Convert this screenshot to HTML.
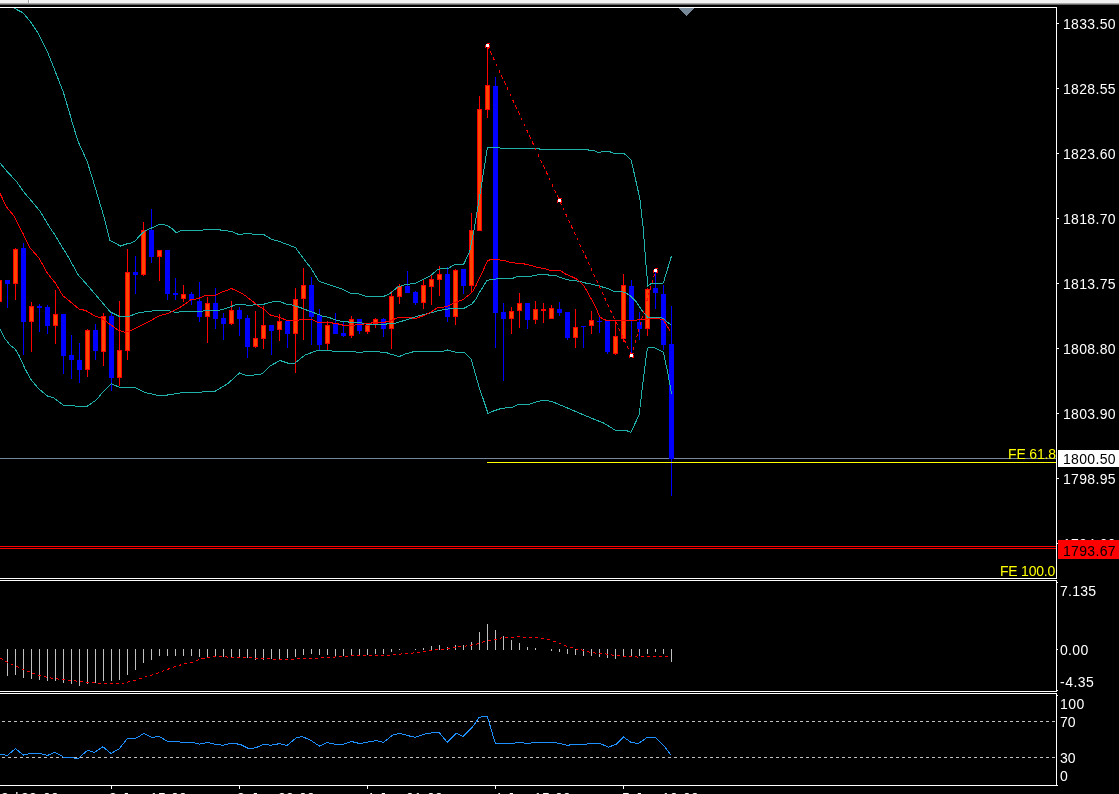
<!DOCTYPE html><html><head><meta charset="utf-8"><title>Chart</title><style>html,body{margin:0;padding:0;background:#000;}body{width:1119px;height:794px;overflow:hidden;position:relative;}svg{position:absolute;left:0;top:0;display:block;}text{font-family:"Liberation Sans",Arial,sans-serif;font-size:14px;}</style></head><body>
<svg width="1119" height="794" viewBox="0 0 1119 794">
<rect x="0" y="0" width="1119" height="794" fill="#000"/>
<rect x="0" y="0" width="1119" height="3" fill="#f0f0f0"/>
<rect x="0" y="3" width="1119" height="1" fill="#a8a8a8"/>
<rect x="0" y="4" width="1119" height="1" fill="#646464"/>
<rect x="28" y="0" width="1" height="3" fill="#a0a0a0"/>
<rect x="29" y="0" width="1" height="3" fill="#ffffff"/>
<defs><clipPath id="cm"><rect x="0" y="8" width="1056" height="570"/></clipPath><clipPath id="cmacd"><rect x="0" y="581" width="1056" height="110"/></clipPath><clipPath id="crsi"><rect x="0" y="694" width="1056" height="91"/></clipPath></defs>
<g clip-path="url(#cm)">
<rect x="0" y="546" width="1056" height="1" fill="#ff0000"/>
<rect x="0" y="548" width="1056" height="1" fill="#ff0000"/>
<rect x="0" y="458" width="1056" height="1" fill="#778899"/>
<g shape-rendering="crispEdges">
<rect x="-1" y="276" width="1" height="30" fill="#ff0000"/>
<rect x="-3" y="280" width="5" height="22" fill="#ff0000"/>
<rect x="-2" y="281" width="3" height="20" fill="#ff4500"/>
<rect x="7" y="280" width="1" height="28" fill="#0000ff"/>
<rect x="5" y="280" width="5" height="4" fill="#0000ff"/>
<rect x="15" y="248" width="1" height="52" fill="#ff0000"/>
<rect x="13" y="249" width="5" height="35" fill="#ff0000"/>
<rect x="14" y="250" width="3" height="33" fill="#ff4500"/>
<rect x="23" y="243" width="1" height="112" fill="#0000ff"/>
<rect x="21" y="248" width="5" height="74" fill="#0000ff"/>
<rect x="31" y="302" width="1" height="50" fill="#ff0000"/>
<rect x="29" y="306" width="5" height="16" fill="#ff0000"/>
<rect x="30" y="307" width="3" height="14" fill="#ff4500"/>
<rect x="39" y="304" width="1" height="28" fill="#0000ff"/>
<rect x="37" y="306" width="5" height="2" fill="#0000ff"/>
<rect x="47" y="305" width="1" height="29" fill="#0000ff"/>
<rect x="45" y="307" width="5" height="19" fill="#0000ff"/>
<rect x="55" y="290" width="1" height="54" fill="#ff0000"/>
<rect x="53" y="314" width="5" height="12" fill="#ff0000"/>
<rect x="54" y="315" width="3" height="10" fill="#ff4500"/>
<rect x="63" y="314" width="1" height="60" fill="#0000ff"/>
<rect x="61" y="314" width="5" height="42" fill="#0000ff"/>
<rect x="71" y="335" width="1" height="44" fill="#0000ff"/>
<rect x="69" y="355" width="5" height="5" fill="#0000ff"/>
<rect x="79" y="343" width="1" height="40" fill="#0000ff"/>
<rect x="77" y="360" width="5" height="10" fill="#0000ff"/>
<rect x="87" y="329" width="1" height="48" fill="#ff0000"/>
<rect x="85" y="330" width="5" height="40" fill="#ff0000"/>
<rect x="86" y="331" width="3" height="38" fill="#ff4500"/>
<rect x="95" y="324" width="1" height="36" fill="#0000ff"/>
<rect x="93" y="330" width="5" height="21" fill="#0000ff"/>
<rect x="103" y="313" width="1" height="53" fill="#ff0000"/>
<rect x="101" y="316" width="5" height="36" fill="#ff0000"/>
<rect x="102" y="317" width="3" height="34" fill="#ff4500"/>
<rect x="111" y="313" width="1" height="78" fill="#0000ff"/>
<rect x="109" y="316" width="5" height="62" fill="#0000ff"/>
<rect x="119" y="301" width="1" height="85" fill="#ff0000"/>
<rect x="117" y="350" width="5" height="28" fill="#ff0000"/>
<rect x="118" y="351" width="3" height="26" fill="#ff4500"/>
<rect x="127" y="249" width="1" height="111" fill="#ff0000"/>
<rect x="125" y="272" width="5" height="79" fill="#ff0000"/>
<rect x="126" y="273" width="3" height="77" fill="#ff4500"/>
<rect x="135" y="256" width="1" height="38" fill="#0000ff"/>
<rect x="133" y="272" width="5" height="3" fill="#0000ff"/>
<rect x="143" y="222" width="1" height="54" fill="#ff0000"/>
<rect x="141" y="230" width="5" height="45" fill="#ff0000"/>
<rect x="142" y="231" width="3" height="43" fill="#ff4500"/>
<rect x="151" y="209" width="1" height="54" fill="#0000ff"/>
<rect x="149" y="230" width="5" height="27" fill="#0000ff"/>
<rect x="159" y="250" width="1" height="31" fill="#ff0000"/>
<rect x="157" y="250" width="5" height="7" fill="#ff0000"/>
<rect x="158" y="251" width="3" height="5" fill="#ff4500"/>
<rect x="167" y="250" width="1" height="50" fill="#0000ff"/>
<rect x="165" y="250" width="5" height="44" fill="#0000ff"/>
<rect x="175" y="278" width="1" height="22" fill="#0000ff"/>
<rect x="173" y="293" width="5" height="2" fill="#0000ff"/>
<rect x="183" y="285" width="1" height="17" fill="#ff0000"/>
<rect x="181" y="294" width="5" height="5" fill="#ff0000"/>
<rect x="182" y="295" width="3" height="3" fill="#ff4500"/>
<rect x="191" y="292" width="1" height="13" fill="#0000ff"/>
<rect x="189" y="294" width="5" height="6" fill="#0000ff"/>
<rect x="199" y="282" width="1" height="40" fill="#0000ff"/>
<rect x="197" y="301" width="5" height="16" fill="#0000ff"/>
<rect x="207" y="297" width="1" height="46" fill="#ff0000"/>
<rect x="205" y="303" width="5" height="14" fill="#ff0000"/>
<rect x="206" y="304" width="3" height="12" fill="#ff4500"/>
<rect x="215" y="288" width="1" height="41" fill="#0000ff"/>
<rect x="213" y="303" width="5" height="16" fill="#0000ff"/>
<rect x="223" y="313" width="1" height="27" fill="#0000ff"/>
<rect x="221" y="318" width="5" height="6" fill="#0000ff"/>
<rect x="231" y="301" width="1" height="24" fill="#ff0000"/>
<rect x="229" y="310" width="5" height="14" fill="#ff0000"/>
<rect x="230" y="311" width="3" height="12" fill="#ff4500"/>
<rect x="239" y="307" width="1" height="29" fill="#0000ff"/>
<rect x="237" y="310" width="5" height="9" fill="#0000ff"/>
<rect x="247" y="315" width="1" height="43" fill="#0000ff"/>
<rect x="245" y="318" width="5" height="29" fill="#0000ff"/>
<rect x="255" y="311" width="1" height="37" fill="#ff0000"/>
<rect x="253" y="338" width="5" height="9" fill="#ff0000"/>
<rect x="254" y="339" width="3" height="7" fill="#ff4500"/>
<rect x="263" y="306" width="1" height="43" fill="#ff0000"/>
<rect x="261" y="325" width="5" height="14" fill="#ff0000"/>
<rect x="262" y="326" width="3" height="12" fill="#ff4500"/>
<rect x="271" y="325" width="1" height="30" fill="#0000ff"/>
<rect x="269" y="325" width="5" height="6" fill="#0000ff"/>
<rect x="279" y="314" width="1" height="27" fill="#ff0000"/>
<rect x="277" y="321" width="5" height="9" fill="#ff0000"/>
<rect x="278" y="322" width="3" height="7" fill="#ff4500"/>
<rect x="287" y="321" width="1" height="27" fill="#0000ff"/>
<rect x="285" y="321" width="5" height="13" fill="#0000ff"/>
<rect x="295" y="288" width="1" height="85" fill="#ff0000"/>
<rect x="293" y="299" width="5" height="35" fill="#ff0000"/>
<rect x="294" y="300" width="3" height="33" fill="#ff4500"/>
<rect x="303" y="268" width="1" height="72" fill="#ff0000"/>
<rect x="301" y="285" width="5" height="14" fill="#ff0000"/>
<rect x="302" y="286" width="3" height="12" fill="#ff4500"/>
<rect x="311" y="277" width="1" height="68" fill="#0000ff"/>
<rect x="309" y="285" width="5" height="32" fill="#0000ff"/>
<rect x="319" y="309" width="1" height="42" fill="#0000ff"/>
<rect x="317" y="315" width="5" height="30" fill="#0000ff"/>
<rect x="327" y="321" width="1" height="29" fill="#ff0000"/>
<rect x="325" y="325" width="5" height="19" fill="#ff0000"/>
<rect x="326" y="326" width="3" height="17" fill="#ff4500"/>
<rect x="335" y="313" width="1" height="21" fill="#0000ff"/>
<rect x="333" y="323" width="5" height="11" fill="#0000ff"/>
<rect x="343" y="321" width="1" height="16" fill="#0000ff"/>
<rect x="341" y="333" width="5" height="3" fill="#0000ff"/>
<rect x="351" y="316" width="1" height="22" fill="#ff0000"/>
<rect x="349" y="319" width="5" height="17" fill="#ff0000"/>
<rect x="350" y="320" width="3" height="15" fill="#ff4500"/>
<rect x="359" y="319" width="1" height="15" fill="#0000ff"/>
<rect x="357" y="319" width="5" height="12" fill="#0000ff"/>
<rect x="367" y="325" width="1" height="9" fill="#ff0000"/>
<rect x="365" y="325" width="5" height="7" fill="#ff0000"/>
<rect x="366" y="326" width="3" height="5" fill="#ff4500"/>
<rect x="375" y="318" width="1" height="10" fill="#ff0000"/>
<rect x="373" y="319" width="5" height="5" fill="#ff0000"/>
<rect x="374" y="320" width="3" height="3" fill="#ff4500"/>
<rect x="383" y="318" width="1" height="19" fill="#0000ff"/>
<rect x="381" y="319" width="5" height="10" fill="#0000ff"/>
<rect x="391" y="291" width="1" height="58" fill="#ff0000"/>
<rect x="389" y="296" width="5" height="33" fill="#ff0000"/>
<rect x="390" y="297" width="3" height="31" fill="#ff4500"/>
<rect x="399" y="284" width="1" height="20" fill="#ff0000"/>
<rect x="397" y="286" width="5" height="11" fill="#ff0000"/>
<rect x="398" y="287" width="3" height="9" fill="#ff4500"/>
<rect x="407" y="271" width="1" height="22" fill="#0000ff"/>
<rect x="405" y="286" width="5" height="7" fill="#0000ff"/>
<rect x="415" y="291" width="1" height="14" fill="#0000ff"/>
<rect x="413" y="292" width="5" height="11" fill="#0000ff"/>
<rect x="423" y="279" width="1" height="30" fill="#ff0000"/>
<rect x="421" y="285" width="5" height="18" fill="#ff0000"/>
<rect x="422" y="286" width="3" height="16" fill="#ff4500"/>
<rect x="431" y="275" width="1" height="30" fill="#ff0000"/>
<rect x="429" y="279" width="5" height="8" fill="#ff0000"/>
<rect x="430" y="280" width="3" height="6" fill="#ff4500"/>
<rect x="439" y="266" width="1" height="30" fill="#ff0000"/>
<rect x="437" y="274" width="5" height="6" fill="#ff0000"/>
<rect x="438" y="275" width="3" height="4" fill="#ff4500"/>
<rect x="447" y="267" width="1" height="55" fill="#0000ff"/>
<rect x="445" y="274" width="5" height="43" fill="#0000ff"/>
<rect x="455" y="269" width="1" height="56" fill="#ff0000"/>
<rect x="453" y="270" width="5" height="47" fill="#ff0000"/>
<rect x="454" y="271" width="3" height="45" fill="#ff4500"/>
<rect x="463" y="269" width="1" height="25" fill="#0000ff"/>
<rect x="461" y="269" width="5" height="17" fill="#0000ff"/>
<rect x="471" y="213" width="1" height="79" fill="#ff0000"/>
<rect x="469" y="230" width="5" height="56" fill="#ff0000"/>
<rect x="470" y="231" width="3" height="54" fill="#ff4500"/>
<rect x="479" y="96" width="1" height="135" fill="#ff0000"/>
<rect x="477" y="109" width="5" height="122" fill="#ff0000"/>
<rect x="478" y="110" width="3" height="120" fill="#ff4500"/>
<rect x="487" y="45" width="1" height="73" fill="#ff0000"/>
<rect x="485" y="85" width="5" height="25" fill="#ff0000"/>
<rect x="486" y="86" width="3" height="23" fill="#ff4500"/>
<rect x="495" y="77" width="1" height="271" fill="#0000ff"/>
<rect x="493" y="86" width="5" height="227" fill="#0000ff"/>
<rect x="503" y="303" width="1" height="78" fill="#0000ff"/>
<rect x="501" y="312" width="5" height="7" fill="#0000ff"/>
<rect x="511" y="307" width="1" height="27" fill="#ff0000"/>
<rect x="509" y="311" width="5" height="8" fill="#ff0000"/>
<rect x="510" y="312" width="3" height="6" fill="#ff4500"/>
<rect x="519" y="293" width="1" height="35" fill="#ff0000"/>
<rect x="517" y="303" width="5" height="8" fill="#ff0000"/>
<rect x="518" y="304" width="3" height="6" fill="#ff4500"/>
<rect x="527" y="303" width="1" height="26" fill="#0000ff"/>
<rect x="525" y="303" width="5" height="17" fill="#0000ff"/>
<rect x="535" y="301" width="1" height="23" fill="#ff0000"/>
<rect x="533" y="309" width="5" height="11" fill="#ff0000"/>
<rect x="534" y="310" width="3" height="9" fill="#ff4500"/>
<rect x="543" y="303" width="1" height="20" fill="#ff0000"/>
<rect x="541" y="309" width="5" height="2" fill="#ff0000"/>
<rect x="551" y="305" width="1" height="14" fill="#ff0000"/>
<rect x="549" y="308" width="5" height="11" fill="#ff0000"/>
<rect x="550" y="309" width="3" height="9" fill="#ff4500"/>
<rect x="559" y="302" width="1" height="14" fill="#0000ff"/>
<rect x="557" y="309" width="5" height="4" fill="#0000ff"/>
<rect x="567" y="312" width="1" height="28" fill="#0000ff"/>
<rect x="565" y="312" width="5" height="26" fill="#0000ff"/>
<rect x="575" y="309" width="1" height="39" fill="#ff0000"/>
<rect x="573" y="327" width="5" height="11" fill="#ff0000"/>
<rect x="574" y="328" width="3" height="9" fill="#ff4500"/>
<rect x="583" y="326" width="1" height="22" fill="#0000ff"/>
<rect x="581" y="326" width="5" height="1" fill="#0000ff"/>
<rect x="591" y="311" width="1" height="23" fill="#ff0000"/>
<rect x="589" y="320" width="5" height="6" fill="#ff0000"/>
<rect x="590" y="321" width="3" height="4" fill="#ff4500"/>
<rect x="599" y="315" width="1" height="18" fill="#0000ff"/>
<rect x="597" y="321" width="5" height="1" fill="#0000ff"/>
<rect x="607" y="321" width="1" height="33" fill="#0000ff"/>
<rect x="605" y="321" width="5" height="31" fill="#0000ff"/>
<rect x="615" y="321" width="1" height="34" fill="#ff0000"/>
<rect x="613" y="336" width="5" height="18" fill="#ff0000"/>
<rect x="614" y="337" width="3" height="16" fill="#ff4500"/>
<rect x="623" y="274" width="1" height="68" fill="#ff0000"/>
<rect x="621" y="285" width="5" height="54" fill="#ff0000"/>
<rect x="622" y="286" width="3" height="52" fill="#ff4500"/>
<rect x="631" y="280" width="1" height="75" fill="#0000ff"/>
<rect x="629" y="286" width="5" height="35" fill="#0000ff"/>
<rect x="639" y="312" width="1" height="28" fill="#0000ff"/>
<rect x="637" y="322" width="5" height="7" fill="#0000ff"/>
<rect x="647" y="288" width="1" height="48" fill="#ff0000"/>
<rect x="645" y="289" width="5" height="40" fill="#ff0000"/>
<rect x="646" y="290" width="3" height="38" fill="#ff4500"/>
<rect x="655" y="270" width="1" height="39" fill="#0000ff"/>
<rect x="653" y="288" width="5" height="5" fill="#0000ff"/>
<rect x="663" y="285" width="1" height="65" fill="#0000ff"/>
<rect x="661" y="294" width="5" height="51" fill="#0000ff"/>
<rect x="671" y="306" width="1" height="190" fill="#0000ff"/>
<rect x="669" y="344" width="5" height="115" fill="#0000ff"/>
</g>
<g fill="none" stroke-width="1" shape-rendering="crispEdges">
<polyline points="13.0,7.6 14.1,8.2 18.9,10.7 22.7,12.6 30.2,21.4 37.8,32.7 47.9,52.9 52.9,65.5 57.3,76.8 63.1,91.5 69.6,113.0 71.5,120.0 78.0,141.3 87.0,161.0 93.6,182.3 103.4,215.0 110.0,240.5 120.5,246.0 128.6,243.3 130.0,243.4 135.0,241.0 140.0,235.3 145.1,230.9 155.2,226.4 160.2,224.2 164.0,224.6 167.8,225.8 171.6,228.3 176.0,232.7 180.4,230.9 203.0,230.2 204.3,229.2 219.5,229.2 220.8,230.3 227.1,230.7 229.0,231.6 232.7,232.0 237.8,234.1 242.8,234.1 243.5,233.2 251.6,233.2 252.3,234.1 263.6,234.5 271.8,239.3 279.7,241.6 287.5,244.6 295.4,247.5 303.3,258.3 311.0,268.2 319.0,281.3 326.9,283.9 334.7,286.5 342.6,289.2 350.4,293.1 358.3,293.7 366.2,296.3 383.9,296.3 389.8,293.7 397.6,287.2 405.5,284.5 415.0,283.4 422.6,279.6 430.2,275.8 438.3,269.1 447.8,268.6 454.1,264.9 463.5,264.5 469.6,252.0 473.9,230.6 481.4,185.6 487.4,147.5 499.8,147.5 500.5,148.5 539.3,148.5 540.0,149.5 587.9,149.5 588.7,150.3 594.0,150.5 598.5,152.5 603.1,151.5 609.2,151.5 613.7,153.3 623.6,153.3 627.4,156.3 631.2,160.0 635.5,179.2 639.8,198.5 643.0,226.3 646.2,267.0 647.9,286.2 650.5,284.0 663.3,283.0 671.4,256.3" stroke="#20b2aa"/>
<polyline points="0.0,163.1 7.6,172.0 16.4,181.4 23.9,192.1 31.5,201.0 40.3,211.6 47.9,224.2 50.8,229.0 55.4,235.6 60.2,243.9 66.5,253.9 72.2,264.0 78.5,275.3 85.4,282.9 93.0,291.7 100.5,300.5 110.4,312.0 119.2,316.4 128.6,316.4 135.6,313.9 140.0,312.5 146.0,311.7 155.1,310.7 168.7,310.7 171.8,311.7 177.8,312.5 179.3,311.7 202.0,311.7 203.5,310.7 218.9,310.3 225.2,308.8 230.2,306.9 235.3,305.0 239.0,304.1 243.5,304.1 247.9,305.6 251.6,305.6 255.4,304.1 264.2,304.1 269.3,302.5 275.6,301.2 280.7,301.8 286.3,304.3 291.4,304.9 300.2,307.5 306.5,310.0 316.6,313.8 322.9,316.3 329.2,317.5 334.2,319.5 338.3,320.5 342.3,321.5 348.0,321.5 348.3,322.5 361.5,322.5 362.2,323.5 366.0,323.5 366.3,324.5 386.7,324.5 387.0,323.5 394.2,323.5 400.5,321.6 406.8,319.7 410.0,318.6 417.6,316.1 425.1,314.2 432.7,312.3 439.0,310.5 446.5,309.2 451.6,308.6 463.5,308.6 471.7,304.2 475.5,299.7 480.0,291.6 486.9,280.5 491.3,279.6 498.9,278.7 512.7,278.3 517.8,276.4 530.4,276.4 539.2,274.6 548.0,274.6 548.6,275.4 555.6,275.4 560.1,277.4 566.4,279.6 575.2,280.8 580.2,281.5 586.5,283.3 594.1,284.6 600.4,286.5 608.0,288.4 614.3,291.5 621.8,291.5 625.6,292.8 630.4,295.7 635.7,301.0 641.7,310.0 647.8,317.4 658.3,317.6 662.2,318.0 671.0,325.0" stroke="#20b2aa"/>
<polyline points="0.0,328.8 5.0,338.8 10.0,345.0 15.0,348.8 18.8,355.0 25.0,368.8 31.3,380.0 38.8,388.8 47.5,396.0 53.8,398.0 63.8,405.5 75.0,406.0 87.5,406.0 96.3,400.0 103.8,391.0 111.3,383.8 120.0,387.5 135.0,387.5 145.0,392.5 156.3,395.0 167.5,395.0 180.0,393.0 202.5,392.0 215.0,391.3 227.5,383.8 239.5,373.0 247.5,376.0 262.5,373.8 270.0,366.0 280.0,360.5 287.5,363.0 295.0,363.0 305.0,355.0 317.5,350.5 331.6,350.5 332.3,351.5 355.7,351.5 356.4,352.5 362.7,352.5 363.3,351.5 379.7,351.5 380.3,352.5 387.4,352.5 388.0,353.5 392.9,354.6 399.2,356.6 405.5,353.8 413.0,351.9 420.0,351.6 440.0,352.0 447.5,350.0 455.0,352.0 463.8,352.0 471.0,358.8 478.8,386.0 488.0,413.5 494.0,410.8 501.4,408.4 512.2,407.3 518.0,404.7 528.3,404.4 540.0,400.9 547.5,400.6 553.0,402.0 565.8,407.3 587.2,416.4 595.5,419.8 603.8,423.1 614.9,430.0 626.0,430.4 630.9,432.5 639.2,414.5 642.6,385.4 646.8,352.2 648.2,347.3 655.1,348.0 663.4,352.2 667.5,371.6 671.7,394.4" stroke="#20b2aa"/>
<polyline points="0.0,193.4 6.3,206.6 14.5,216.7 22.7,233.0 30.2,248.2 38.8,257.7 47.6,273.5 55.2,282.9 62.7,295.5 70.3,301.8 79.1,309.1 85.4,310.4 94.2,315.6 100.5,317.8 105.6,321.0 111.0,325.0 118.0,330.2 124.2,332.1 130.5,330.9 135.6,328.3 140.0,326.1 149.0,321.6 159.7,315.5 164.2,314.5 170.2,312.5 176.3,309.5 182.3,306.0 186.9,302.7 191.4,299.4 197.4,298.9 203.5,296.3 206.5,295.1 215.1,295.3 222.7,291.8 231.5,288.6 239.0,291.8 245.3,295.6 251.6,300.6 257.9,305.6 264.2,309.4 270.5,315.1 275.6,316.3 280.0,317.6 287.0,320.4 298.3,320.4 299.6,319.4 311.5,319.4 318.0,322.5 332.0,322.5 332.5,323.5 338.0,323.5 338.5,324.5 342.0,324.5 342.5,325.5 354.5,325.5 355.5,324.5 362.5,324.5 366.0,323.5 371.0,323.5 371.5,322.5 385.0,322.5 385.5,321.5 389.5,321.5 395.4,318.5 398.6,317.6 410.5,317.6 415.0,318.6 423.9,315.5 431.4,311.7 437.7,307.7 446.5,306.7 452.8,303.5 459.1,301.0 462.9,299.7 469.2,294.7 473.0,290.9 475.5,286.5 481.8,273.3 487.6,260.7 491.3,259.4 498.9,259.4 500.2,260.3 505.2,260.7 510.2,262.3 516.5,263.2 524.1,263.9 530.4,265.4 537.9,267.4 545.5,268.9 549.9,270.4 560.0,270.4 562.6,272.0 566.4,274.5 571.4,276.4 576.4,278.9 580.2,282.1 584.0,285.9 587.8,292.8 592.8,301.6 596.6,309.2 599.7,316.7 602.9,319.0 606.7,320.5 630.0,320.5 645.9,319.3 656.0,318.0 663.5,320.0 669.8,330.6" stroke="#ff0000"/>
</g>
<rect x="487" y="462" width="569" height="1" fill="#ffff00"/>
<g fill="none" stroke="#ff0000" stroke-width="1" shape-rendering="crispEdges">
<line x1="487.5" y1="45.5" x2="631.5" y2="355.5" stroke-dasharray="3.31 3.31" stroke-dashoffset="0"/>
<line x1="631.5" y1="355.5" x2="655.5" y2="270.5" stroke-dasharray="3.12 3.12"/>
</g>
<rect x="487" y="43" width="3" height="1" fill="#ff0000"/>
<rect x="485" y="45" width="1" height="3" fill="#ff0000"/>
<rect x="489" y="45" width="1" height="3" fill="#ff0000"/>
<rect x="488" y="47" width="1" height="1" fill="#ff0000"/>
<rect x="486" y="44" width="3" height="3" fill="#ffffff"/>
<rect x="559" y="198" width="3" height="1" fill="#ff0000"/>
<rect x="557" y="200" width="1" height="3" fill="#ff0000"/>
<rect x="561" y="200" width="1" height="3" fill="#ff0000"/>
<rect x="560" y="202" width="1" height="1" fill="#ff0000"/>
<rect x="558" y="199" width="3" height="3" fill="#ffffff"/>
<rect x="631" y="353" width="3" height="1" fill="#ff0000"/>
<rect x="629" y="355" width="1" height="3" fill="#ff0000"/>
<rect x="633" y="355" width="1" height="3" fill="#ff0000"/>
<rect x="632" y="357" width="1" height="1" fill="#ff0000"/>
<rect x="630" y="354" width="3" height="3" fill="#ffffff"/>
<rect x="655" y="268" width="3" height="1" fill="#ff0000"/>
<rect x="653" y="270" width="1" height="3" fill="#ff0000"/>
<rect x="657" y="270" width="1" height="3" fill="#ff0000"/>
<rect x="656" y="272" width="1" height="1" fill="#ff0000"/>
<rect x="654" y="269" width="3" height="3" fill="#ffffff"/>
<text x="1008" y="459" fill="#ffff00" textLength="48.0" lengthAdjust="spacing">FE 61.8</text>
<text x="1000" y="576" fill="#ffff00" textLength="55.3" lengthAdjust="spacing">FE 100.0</text>
</g>
<rect x="679" y="8" width="15" height="1" fill="#778899"/>
<rect x="680" y="9" width="13" height="1" fill="#778899"/>
<rect x="681" y="10" width="11" height="1" fill="#778899"/>
<rect x="682" y="11" width="9" height="1" fill="#778899"/>
<rect x="683" y="12" width="7" height="1" fill="#778899"/>
<rect x="684" y="13" width="5" height="1" fill="#778899"/>
<rect x="685" y="14" width="3" height="1" fill="#778899"/>
<rect x="686" y="15" width="1" height="1" fill="#778899"/>
<g clip-path="url(#cmacd)">
<g shape-rendering="crispEdges">
<rect x="7" y="649" width="1" height="27" fill="#c0c0c0"/>
<rect x="15" y="649" width="1" height="26" fill="#c0c0c0"/>
<rect x="23" y="649" width="1" height="29" fill="#c0c0c0"/>
<rect x="31" y="649" width="1" height="30" fill="#c0c0c0"/>
<rect x="39" y="649" width="1" height="31" fill="#c0c0c0"/>
<rect x="47" y="649" width="1" height="32" fill="#c0c0c0"/>
<rect x="55" y="649" width="1" height="32" fill="#c0c0c0"/>
<rect x="63" y="649" width="1" height="34" fill="#c0c0c0"/>
<rect x="71" y="649" width="1" height="35" fill="#c0c0c0"/>
<rect x="79" y="649" width="1" height="37" fill="#c0c0c0"/>
<rect x="87" y="649" width="1" height="35" fill="#c0c0c0"/>
<rect x="95" y="649" width="1" height="34" fill="#c0c0c0"/>
<rect x="103" y="649" width="1" height="32" fill="#c0c0c0"/>
<rect x="111" y="649" width="1" height="32" fill="#c0c0c0"/>
<rect x="119" y="649" width="1" height="31" fill="#c0c0c0"/>
<rect x="127" y="649" width="1" height="26" fill="#c0c0c0"/>
<rect x="135" y="649" width="1" height="21" fill="#c0c0c0"/>
<rect x="143" y="649" width="1" height="14" fill="#c0c0c0"/>
<rect x="151" y="649" width="1" height="11" fill="#c0c0c0"/>
<rect x="159" y="649" width="1" height="7" fill="#c0c0c0"/>
<rect x="167" y="649" width="1" height="7" fill="#c0c0c0"/>
<rect x="175" y="649" width="1" height="7" fill="#c0c0c0"/>
<rect x="183" y="649" width="1" height="7" fill="#c0c0c0"/>
<rect x="191" y="649" width="1" height="7" fill="#c0c0c0"/>
<rect x="199" y="649" width="1" height="8" fill="#c0c0c0"/>
<rect x="207" y="649" width="1" height="8" fill="#c0c0c0"/>
<rect x="215" y="649" width="1" height="8" fill="#c0c0c0"/>
<rect x="223" y="649" width="1" height="8" fill="#c0c0c0"/>
<rect x="231" y="649" width="1" height="8" fill="#c0c0c0"/>
<rect x="239" y="649" width="1" height="8" fill="#c0c0c0"/>
<rect x="247" y="649" width="1" height="9" fill="#c0c0c0"/>
<rect x="255" y="649" width="1" height="11" fill="#c0c0c0"/>
<rect x="263" y="649" width="1" height="11" fill="#c0c0c0"/>
<rect x="271" y="649" width="1" height="10" fill="#c0c0c0"/>
<rect x="279" y="649" width="1" height="10" fill="#c0c0c0"/>
<rect x="287" y="649" width="1" height="9" fill="#c0c0c0"/>
<rect x="295" y="649" width="1" height="8" fill="#c0c0c0"/>
<rect x="303" y="649" width="1" height="6" fill="#c0c0c0"/>
<rect x="311" y="649" width="1" height="5" fill="#c0c0c0"/>
<rect x="319" y="649" width="1" height="6" fill="#c0c0c0"/>
<rect x="327" y="649" width="1" height="6" fill="#c0c0c0"/>
<rect x="335" y="649" width="1" height="7" fill="#c0c0c0"/>
<rect x="343" y="649" width="1" height="7" fill="#c0c0c0"/>
<rect x="351" y="649" width="1" height="6" fill="#c0c0c0"/>
<rect x="359" y="649" width="1" height="6" fill="#c0c0c0"/>
<rect x="367" y="649" width="1" height="6" fill="#c0c0c0"/>
<rect x="375" y="649" width="1" height="5" fill="#c0c0c0"/>
<rect x="383" y="649" width="1" height="5" fill="#c0c0c0"/>
<rect x="391" y="649" width="1" height="3" fill="#c0c0c0"/>
<rect x="399" y="649" width="1" height="1" fill="#c0c0c0"/>
<rect x="415" y="649" width="1" height="1" fill="#c0c0c0"/>
<rect x="423" y="648" width="1" height="2" fill="#c0c0c0"/>
<rect x="431" y="646" width="1" height="4" fill="#c0c0c0"/>
<rect x="439" y="645" width="1" height="5" fill="#c0c0c0"/>
<rect x="447" y="647" width="1" height="3" fill="#c0c0c0"/>
<rect x="455" y="645" width="1" height="5" fill="#c0c0c0"/>
<rect x="463" y="645" width="1" height="5" fill="#c0c0c0"/>
<rect x="471" y="642" width="1" height="8" fill="#c0c0c0"/>
<rect x="479" y="632" width="1" height="18" fill="#c0c0c0"/>
<rect x="487" y="624" width="1" height="26" fill="#c0c0c0"/>
<rect x="495" y="630" width="1" height="20" fill="#c0c0c0"/>
<rect x="503" y="636" width="1" height="14" fill="#c0c0c0"/>
<rect x="511" y="640" width="1" height="10" fill="#c0c0c0"/>
<rect x="519" y="643" width="1" height="7" fill="#c0c0c0"/>
<rect x="527" y="647" width="1" height="3" fill="#c0c0c0"/>
<rect x="535" y="648" width="1" height="2" fill="#c0c0c0"/>
<rect x="551" y="649" width="1" height="2" fill="#c0c0c0"/>
<rect x="559" y="649" width="1" height="3" fill="#c0c0c0"/>
<rect x="567" y="649" width="1" height="5" fill="#c0c0c0"/>
<rect x="575" y="649" width="1" height="6" fill="#c0c0c0"/>
<rect x="583" y="649" width="1" height="7" fill="#c0c0c0"/>
<rect x="591" y="649" width="1" height="7" fill="#c0c0c0"/>
<rect x="599" y="649" width="1" height="8" fill="#c0c0c0"/>
<rect x="607" y="649" width="1" height="9" fill="#c0c0c0"/>
<rect x="615" y="649" width="1" height="10" fill="#c0c0c0"/>
<rect x="623" y="649" width="1" height="7" fill="#c0c0c0"/>
<rect x="631" y="649" width="1" height="7" fill="#c0c0c0"/>
<rect x="639" y="649" width="1" height="7" fill="#c0c0c0"/>
<rect x="647" y="649" width="1" height="5" fill="#c0c0c0"/>
<rect x="655" y="649" width="1" height="3" fill="#c0c0c0"/>
<rect x="663" y="649" width="1" height="5" fill="#c0c0c0"/>
<rect x="671" y="649" width="1" height="13" fill="#c0c0c0"/>
</g>
<polyline points="0.0,658.0 7.9,662.5 15.7,665.9 23.6,669.8 31.5,672.7 39.3,675.7 47.2,677.3 55.0,678.6 62.9,679.6 70.8,680.6 78.6,681.2 86.5,682.6 94.4,682.6 102.2,683.6 121.9,683.6 129.8,681.6 137.6,679.6 145.5,676.7 153.4,674.7 161.2,671.8 169.1,668.8 177.0,665.9 184.8,663.9 192.7,662.5 200.5,659.0 208.4,657.4 219.8,656.4 229.7,657.2 249.3,657.8 261.1,658.6 276.9,659.2 292.6,659.2 312.2,658.4 328.0,657.6 337.8,656.8 343.7,656.2 355.5,655.6 367.3,655.6 390.9,655.2 398.8,654.2 414.5,652.9 427.1,651.4 434.3,649.7 440.0,649.3 448.6,648.6 455.7,647.1 462.9,646.4 470.0,645.4 477.1,644.0 482.9,641.9 488.6,640.4 494.3,639.6 500.0,638.1 505.7,637.4 520.0,636.7 524.3,637.4 534.3,637.4 542.9,638.3 548.6,639.3 554.3,641.4 560.0,643.5 565.8,645.9 571.6,647.7 577.4,649.4 583.2,650.2 590.2,652.3 596.0,653.2 603.0,653.5 608.8,654.4 614.6,655.4 620.4,656.1 632.0,656.4 639.0,657.3 644.8,656.4 669.2,656.4" fill="none" stroke="#ff0000" stroke-width="1" stroke-dasharray="3 3" shape-rendering="crispEdges"/>
</g>
<g clip-path="url(#crsi)">
<g fill="none" stroke="#c0c0c0" stroke-width="1" stroke-dasharray="3 3" stroke-dashoffset="4" shape-rendering="crispEdges">
<line x1="0" y1="721.5" x2="1056" y2="721.5"/>
<line x1="0" y1="757.5" x2="1056" y2="757.5"/>
</g>
<polyline points="0.0,754.5 3.0,754.5 7.2,755.5 15.4,748.7 23.6,755.1 28.8,753.9 31.9,753.4 40.1,753.4 47.3,755.5 54.5,752.4 61.7,755.9 63.7,757.6 70.9,757.6 78.1,758.6 87.4,750.4 94.6,752.4 102.8,746.7 111.0,753.4 119.2,748.9 127.4,738.4 135.7,738.4 143.9,733.5 152.1,737.4 157.2,736.6 160.3,737.0 167.5,741.5 178.8,741.5 180.9,742.5 193.2,742.5 199.4,744.2 207.6,742.5 214.8,744.2 223.0,745.2 230.3,743.6 235.4,743.6 240.6,744.6 248.8,748.7 256.0,747.7 263.2,744.6 271.4,745.2 279.6,743.6 286.8,745.6 296.0,738.0 302.2,736.6 310.4,740.1 319.7,746.2 326.9,742.5 335.1,744.2 343.3,744.2 351.6,741.5 359.8,743.6 368.0,742.1 376.2,740.5 383.4,742.5 392.7,735.0 399.9,733.3 407.0,735.4 415.3,737.4 423.5,734.3 431.7,732.9 438.9,732.3 447.3,742.4 456.1,733.2 463.2,736.5 472.2,727.5 479.0,717.6 484.0,716.1 487.2,716.1 495.3,743.3 514.0,743.3 516.1,742.5 522.6,742.5 524.7,743.5 530.0,743.5 532.2,742.5 554.7,742.5 562.3,744.0 567.6,745.5 571.9,744.4 585.8,744.4 589.1,743.3 599.8,743.3 608.4,747.2 615.9,744.4 623.4,736.9 630.9,742.3 638.4,743.5 647.0,737.5 655.6,737.5 664.1,746.1 670.6,754.7" fill="none" stroke="#1e90ff" stroke-width="1" shape-rendering="crispEdges"/>
</g>
<g shape-rendering="crispEdges">
<rect x="0" y="7" width="1057" height="1" fill="#fff"/>
<rect x="1056" y="7" width="1" height="572" fill="#fff"/>
<rect x="0" y="578" width="1057" height="1" fill="#fff"/>
<rect x="0" y="580" width="1057" height="1" fill="#fff"/>
<rect x="1056" y="580" width="1" height="112" fill="#fff"/>
<rect x="0" y="691" width="1057" height="1" fill="#fff"/>
<rect x="0" y="693" width="1057" height="1" fill="#fff"/>
<rect x="1056" y="693" width="1" height="93" fill="#fff"/>
<rect x="0" y="785" width="1057" height="1" fill="#fff"/>
<rect x="1057" y="23" width="2" height="1" fill="#fff"/>
<rect x="1057" y="88" width="2" height="1" fill="#fff"/>
<rect x="1057" y="153" width="2" height="1" fill="#fff"/>
<rect x="1057" y="218" width="2" height="1" fill="#fff"/>
<rect x="1057" y="283" width="2" height="1" fill="#fff"/>
<rect x="1057" y="348" width="2" height="1" fill="#fff"/>
<rect x="1057" y="413" width="2" height="1" fill="#fff"/>
<rect x="1057" y="478" width="2" height="1" fill="#fff"/>
<rect x="1057" y="543" width="2" height="1" fill="#fff"/>
<rect x="1057" y="582" width="1" height="1" fill="#fff"/>
<rect x="1057" y="649" width="1" height="1" fill="#fff"/>
<rect x="1057" y="690" width="1" height="1" fill="#fff"/>
<rect x="1057" y="695" width="1" height="1" fill="#fff"/>
<rect x="1057" y="785" width="1" height="1" fill="#fff"/>
<rect x="111" y="786" width="1" height="3" fill="#fff"/>
<rect x="239" y="786" width="1" height="3" fill="#fff"/>
<rect x="367" y="786" width="1" height="3" fill="#fff"/>
<rect x="495" y="786" width="1" height="3" fill="#fff"/>
<rect x="623" y="786" width="1" height="3" fill="#fff"/>
</g>
<text x="1063" y="29" fill="#fff" textLength="52.6" lengthAdjust="spacing">1833.50</text>
<text x="1063" y="94" fill="#fff" textLength="52.6" lengthAdjust="spacing">1828.55</text>
<text x="1063" y="159" fill="#fff" textLength="52.6" lengthAdjust="spacing">1823.60</text>
<text x="1063" y="224" fill="#fff" textLength="52.6" lengthAdjust="spacing">1818.70</text>
<text x="1063" y="289" fill="#fff" textLength="52.6" lengthAdjust="spacing">1813.75</text>
<text x="1063" y="354" fill="#fff" textLength="52.6" lengthAdjust="spacing">1808.80</text>
<text x="1063" y="419" fill="#fff" textLength="52.6" lengthAdjust="spacing">1803.90</text>
<text x="1063" y="484" fill="#fff" textLength="52.6" lengthAdjust="spacing">1798.95</text>
<text x="1063" y="549" fill="#fff" textLength="52.6" lengthAdjust="spacing">1794.00</text>
<text x="1060" y="596" fill="#fff" textLength="36.0" lengthAdjust="spacing">7.135</text>
<text x="1060" y="655" fill="#fff" textLength="28.2" lengthAdjust="spacing">0.00</text>
<text x="1060" y="687" fill="#fff" textLength="33.9" lengthAdjust="spacing">-4.35</text>
<text x="1060" y="709" fill="#fff" textLength="24.3" lengthAdjust="spacing">100</text>
<text x="1060" y="727" fill="#fff">70</text>
<text x="1060" y="763" fill="#fff">30</text>
<text x="1060" y="781" fill="#fff">0</text>
<rect x="1058" y="450" width="61" height="17" fill="#fff"/>
<text x="1063" y="464" fill="#000" textLength="52.6" lengthAdjust="spacing">1800.50</text>
<rect x="1058" y="540" width="61" height="19" fill="#ff0000"/>
<text x="1063" y="556" fill="#000" textLength="52.6" lengthAdjust="spacing">1793.67</text>
<text x="1 9 15 18 21 29 37 43 51" y="803" fill="#fff">3 | 23:00</text>
<text x="109 117 122 129 137 145 150 158 166 171 179" y="803" fill="#fff">3 Jun 15:00</text>
<text x="237 245 251 258 266 274 278 286 294 299 307" y="803" fill="#fff">3 Jun 23:00</text>
<text x="366 374 379 386 394 402 406 414 422 427 435" y="803" fill="#fff">4 Jun 01:00</text>
<text x="494 502 507 514 522 530 534 542 550 555 563" y="803" fill="#fff">4 Jun 15:00</text>
<text x="622 630 635 642 650 658 662 670 678 683 691" y="803" fill="#fff">5 Jun 10:00</text>
</svg></body></html>
